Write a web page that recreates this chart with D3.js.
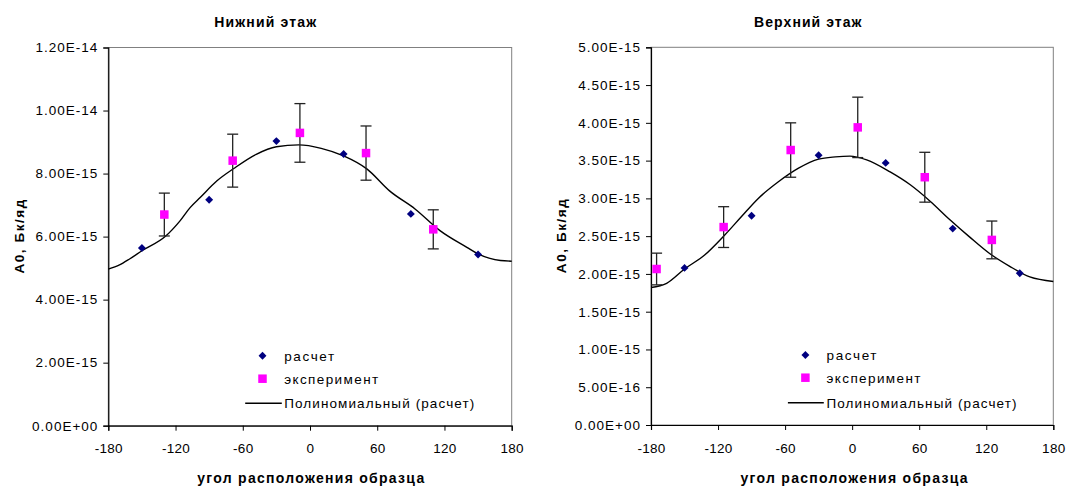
<!DOCTYPE html>
<html><head><meta charset="utf-8">
<script src="https://cdn.jsdelivr.net/npm/d3@7"></script>
<style>
body{margin:0;background:#fff;}
svg{display:block;font-family:Arial,"Liberation Sans",sans-serif;}
</style></head>
<body>
<svg id="chart" width="1067" height="486"></svg>
<script>
// ---------- DATA (values in units of 1E-15 Бк/яд) ----------
const xTicks = [-180, -120, -60, 0, 60, 120, 180];
const xTickLabels = ["-180", "-120", "-60", "0", "60", "120", "180"];

// Нижний этаж
const lowerTitle = "Нижний этаж";
const lowerYTicks = [0, 2, 4, 6, 8, 10, 12];
const lowerYTickLabels = ["0.00E+00", "2.00E-15", "4.00E-15", "6.00E-15", "8.00E-15", "1.00E-14", "1.20E-14"];
const lowerCalcAngle = [-150, -90, -30, 30, 90, 150];
const lowerCalc = [5.64, 7.17, 9.03, 8.62, 6.72, 5.43];
const lowerExpAngle = [-130, -69, -9, 50, 110];
const lowerExp = [6.70, 8.41, 9.29, 8.65, 6.23];
const lowerExpErr = [0.68, 0.84, 0.93, 0.86, 0.62];
const lowerFitAngle = [-180, -170, -161, -150, -129, -116, -107, -98, -83, -68, -48, -30, -10, 10, 30, 51, 71, 94, 116, 140, 150, 170, 180];
const lowerFit = [4.97, 5.10, 5.29, 5.55, 6.01, 6.50, 6.92, 7.24, 7.77, 8.16, 8.61, 8.85, 8.91, 8.80, 8.56, 8.14, 7.45, 6.87, 6.19, 5.66, 5.45, 5.24, 5.22];

// Верхний этаж
const upperTitle = "Верхний этаж";
const upperYTicks = [0, 0.5, 1, 1.5, 2, 2.5, 3, 3.5, 4, 4.5, 5];
const upperYTickLabels = ["0.00E+00", "5.00E-16", "1.00E-15", "1.50E-15", "2.00E-15", "2.50E-15", "3.00E-15", "3.50E-15", "4.00E-15", "4.50E-15", "5.00E-15"];
const upperCalcAngle = [-150, -90, -30, 30, 90, 150];
const upperCalc = [2.08, 2.77, 3.57, 3.47, 2.60, 2.01];
const upperExpAngle = [-175, -115, -55, 5, 65, 125];
const upperExp = [2.065, 2.62, 3.64, 3.94, 3.28, 2.45];
const upperExpErr = [0.21, 0.27, 0.36, 0.40, 0.33, 0.25];
const upperFitAngle = [-180, -166, -150, -132, -114, -99, -84, -66, -48, -30, -15, -2, 13, 34, 52, 70, 88, 105, 123, 141, 159, 180];
const upperFit = [1.82, 1.876, 2.065, 2.25, 2.515, 2.76, 3.00, 3.22, 3.40, 3.52, 3.55, 3.56, 3.51, 3.35, 3.18, 2.96, 2.71, 2.49, 2.27, 2.10, 1.96, 1.90];

const yTitle = "A0, Бк/яд";
const xTitle = "угол расположения образца";
const legendLabels = ["расчет", "эксперимент", "Полиномиальный (расчет)"];

// ---------- DRAW ----------
const svg = d3.select("#chart");

function drawPanel(cfg) {
  const g = svg.append("g");
  const x = d3.scaleLinear().domain([-180, 180]).range([cfg.x0, cfg.x1]);
  const y = d3.scaleLinear().domain([0, cfg.yMax]).range([cfg.y0, cfg.y1]);

  // plot border (top/right gray)
  g.append("rect").attr("x", cfg.x0).attr("y", cfg.y1)
    .attr("width", cfg.x1 - cfg.x0).attr("height", cfg.y0 - cfg.y1)
    .attr("fill", "none").attr("stroke", "#808080").attr("stroke-width", 1);

  // axes
  const ya = g.append("g").attr("transform", `translate(${cfg.x0},0)`)
    .call(d3.axisLeft(y).tickValues(cfg.yTicks).tickFormat((d, i) => cfg.yTickLabels[i]).tickSize(5).tickPadding(5));
  const xa = g.append("g").attr("transform", `translate(0,${cfg.y0})`)
    .call(d3.axisBottom(x).tickValues(xTicks).tickFormat((d, i) => xTickLabels[i]).tickSize(5).tickPadding(13));
  [ya, xa].forEach(a => {
    a.select(".domain").attr("stroke", "#000").attr("stroke-width", 1.2);
    a.selectAll(".tick line").attr("stroke", "#000");
    a.selectAll("text").attr("font-size", 13.5).attr("font-family", "Arial, 'Liberation Sans', sans-serif")
      .attr("fill", "#000");
  });
  ya.selectAll("text").style("letter-spacing", "1px");
  xa.selectAll("text").style("letter-spacing", "0.3px");

  // trend line
  const pts = cfg.fitAngle.map((a, i) => [a, cfg.fit[i]]);
  g.append("path").datum(pts)
    .attr("d", d3.line().x(d => x(d[0])).y(d => y(d[1])).curve(d3.curveMonotoneX))
    .attr("fill", "none").attr("stroke", "#000").attr("stroke-width", 1.4);

  // error bars
  cfg.expAngle.forEach((a, i) => {
    const cx = x(a), top = y(cfg.exp[i] + cfg.expErr[i]), bot = y(cfg.exp[i] - cfg.expErr[i]);
    g.append("line").attr("x1", cx).attr("x2", cx).attr("y1", top).attr("y2", bot).attr("stroke", "#222").attr("stroke-width", 1.3);
    g.append("line").attr("x1", cx - 5.5).attr("x2", cx + 5.5).attr("y1", top).attr("y2", top).attr("stroke", "#222").attr("stroke-width", 1.3);
    g.append("line").attr("x1", cx - 5.5).attr("x2", cx + 5.5).attr("y1", bot).attr("y2", bot).attr("stroke", "#222").attr("stroke-width", 1.3);
  });

  // calc diamonds
  g.selectAll(".dia").data(cfg.calcAngle).enter().append("path")
    .attr("d", d3.symbol().type(d3.symbolDiamond2).size(40))
    .attr("transform", (d, i) => `translate(${x(d)},${y(cfg.calc[i])})`)
    .attr("fill", "#000080");

  // experiment squares
  g.selectAll(".sq").data(cfg.expAngle).enter().append("rect")
    .attr("x", d => x(d) - 4.25).attr("y", (d, i) => y(cfg.exp[i]) - 4.25)
    .attr("width", 8.5).attr("height", 8.5).attr("fill", "#FF00FF");

  // title
  g.append("text").attr("x", cfg.titleX).attr("y", 27.3).attr("text-anchor", "middle")
    .attr("font-size", 14).attr("font-weight", "bold")
    .attr("textLength", cfg.titleLen).attr("lengthAdjust", "spacing").text(cfg.title);
  // x title
  g.append("text").attr("x", cfg.xTitleX).attr("y", 482.7).attr("text-anchor", "middle")
    .attr("font-size", 14).attr("font-weight", "bold")
    .attr("textLength", 227).attr("lengthAdjust", "spacing").text(xTitle);
  // y title
  g.append("text").attr("transform", `translate(${cfg.yTitleX},${(cfg.y0 + cfg.y1) / 2}) rotate(-90)`)
    .attr("text-anchor", "middle").attr("font-size", 13.5).attr("font-weight", "bold")
    .attr("textLength", 74).attr("lengthAdjust", "spacing").text(yTitle);

  // legend
  const L = cfg.legend;
  const lg = g.append("g");
  lg.append("path").attr("d", d3.symbol().type(d3.symbolDiamond2).size(40))
    .attr("transform", `translate(${L.mx},${L.rows[0]})`).attr("fill", "#000080");
  lg.append("rect").attr("x", L.mx - 4.25).attr("y", L.rows[1] - 4.25).attr("width", 8.5).attr("height", 8.5).attr("fill", "#FF00FF");
  lg.append("line").attr("x1", L.lx0).attr("x2", L.lx1).attr("y1", L.rows[2]).attr("y2", L.rows[2])
    .attr("stroke", "#000").attr("stroke-width", 1.4);
  const lens = [50, 94, 190];
  legendLabels.forEach((t, i) => {
    lg.append("text").attr("x", L.tx).attr("y", L.rows[i] + 4.8).attr("font-size", 13.5)
      .attr("textLength", lens[i]).attr("lengthAdjust", "spacing").text(t);
  });
}

drawPanel({
  title: lowerTitle, titleX: 265.2, titleLen: 102, xTitleX: 310.7,
  x0: 108.3, x1: 511.7, y0: 425.7, y1: 47.5, yMax: 12,
  yTicks: lowerYTicks, yTickLabels: lowerYTickLabels,
  calcAngle: lowerCalcAngle, calc: lowerCalc,
  expAngle: lowerExpAngle, exp: lowerExp, expErr: lowerExpErr,
  fitAngle: lowerFitAngle, fit: lowerFit, yTitleX: 24,
  legend: {mx: 262.5, tx: 284.2, lx0: 245.2, lx1: 281.8, rows: [355.7, 378.7, 403.3]}
});
drawPanel({
  title: upperTitle, titleX: 807.8, titleLen: 107.5, xTitleX: 854,
  x0: 651, x1: 1053.3, y0: 425, y1: 47.3, yMax: 5,
  yTicks: upperYTicks, yTickLabels: upperYTickLabels,
  calcAngle: upperCalcAngle, calc: upperCalc,
  expAngle: upperExpAngle, exp: upperExp, expErr: upperExpErr,
  fitAngle: upperFitAngle, fit: upperFit, yTitleX: 566,
  legend: {mx: 805.4, tx: 826.5, lx0: 787.9, lx1: 823.8, rows: [355, 377.7, 402.7]}
});
</script>
</body></html>
